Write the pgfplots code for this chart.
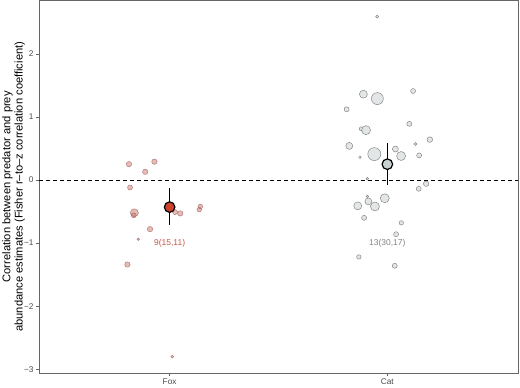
\documentclass[border=0pt]{standalone}
\usepackage{fontspec}
\setmainfont{Liberation Sans}
\usepackage{pgfplots}
\pgfplotsset{compat=1.18}
\usepackage{pgfplotstable}

\definecolor{foxfill}{RGB}{195,95,85}
\definecolor{foxborder}{RGB}{160,100,95}
\definecolor{foxmean}{RGB}{205,65,45}
\definecolor{foxlab}{RGB}{200,85,65}
\definecolor{catfill}{RGB}{222,226,226}
\definecolor{catborder}{RGB}{135,135,135}
\definecolor{catmean}{RGB}{200,208,208}
\definecolor{catlab}{RGB}{130,130,130}

\pgfplotstableread{
x y r
0.813 0.25 2.7
0.930 0.29 2.7
0.888 0.13 2.7
0.818 -0.12 2.5
0.838 -0.52 4.0
0.835 -0.56 2.5
0.910 -0.78 2.7
0.856 -0.94 1.3
0.806 -1.34 2.7
1.025 -0.51 2.5
1.049 -0.53 2.7
1.141 -0.42 2.3
1.136 -0.47 2.3
1.012 -2.80 1.5
}\foxdata

\pgfplotstableread{
x y r
1.953 2.59 1.5
1.890 1.36 4.0
1.954 1.29 6.0
2.118 1.41 2.5
1.813 1.12 2.5
2.101 0.89 2.5
1.880 0.81 2.0
1.902 0.79 4.5
2.195 0.64 2.8
1.825 0.54 3.5
2.129 0.57 1.5
1.874 0.36 1.3
1.940 0.41 6.5
2.037 0.49 3.0
2.063 0.38 4.5
2.146 0.39 2.5
1.908 0.02 1.3
2.178 -0.06 2.7
2.144 -0.14 2.5
1.908 -0.26 1.3
1.988 -0.29 4.5
1.913 -0.34 3.5
1.864 -0.41 4.0
1.943 -0.42 4.5
1.893 -0.60 2.5
2.064 -0.68 2.2
2.040 -0.86 2.5
1.869 -1.22 2.2
2.034 -1.36 2.5
}\catdata

\begin{document}
\begin{tikzpicture}
\useasboundingbox (0,0) rectangle (520bp,388bp);
\begin{axis}[
  at={(39bp,15bp)}, anchor=south west,
  scale only axis, width=479bp, height=372.5bp,
  xmin=0.4, xmax=2.6, ymin=-3.06, ymax=2.845,
  xtick={1,2}, xticklabels={Fox,Cat},
  ytick={-3,-2,-1,0,1,2}, yticklabels={−3,−2,−1,0,1,2},
  xtick pos=bottom, ytick pos=left,
  tick align=outside, major tick length=3bp,
  tick style={black!60, line width=0.5pt},
  axis line style={black!60, line width=0.6pt},
  ticklabel style={text=black!70, font=\fontsize{8.3}{9}\selectfont},
  xticklabel style={yshift=1bp},
  yticklabel style={xshift=1bp},
  ylabel={Correlation between predator and prey\\abundance estimates (Fisher r–to–z correlation coefficient)},
  ylabel style={at={(axis description cs:-0.053,0.5)}, anchor=center, rotate=0, align=center, font=\fontsize{11.2}{12.5}\selectfont},
  clip=false,
]
\addplot[black, dashed, dash pattern=on 4bp off 3bp, line width=0.8pt] coordinates {(0.4,0) (2.6,0)};

\addplot[scatter, only marks, mark=*,
  scatter/use mapped color={draw=foxborder, fill=foxfill, fill opacity=0.42, draw opacity=0.8},
  visualization depends on={\thisrow{r} \as \rr},
  scatter/@pre marker code/.append style={/tikz/mark size=\rr pt},
  line width=0.5pt] table[x=x, y=y] {\foxdata};

\addplot[scatter, only marks, mark=*,
  scatter/use mapped color={draw=catborder, fill=catfill, fill opacity=0.85},
  visualization depends on={\thisrow{r} \as \rr},
  scatter/@pre marker code/.append style={/tikz/mark size=\rr pt},
  line width=0.5pt] table[x=x, y=y] {\catdata};

\addplot[black, line width=1.1pt] coordinates {(1,-0.13) (1,-0.72)};
\addplot[black, line width=1.1pt] coordinates {(2,0.59) (2,-0.08)};

\addplot[only marks, mark=*, mark size=5.3pt, mark options={fill=foxmean, draw=black, line width=1.2pt}] coordinates {(1,-0.43)};
\addplot[only marks, mark=*, mark size=5.3pt, mark options={fill=catmean, draw=black, line width=1.2pt}] coordinates {(2,0.25)};

\node[text=foxlab, font=\fontsize{8.5}{9}\selectfont] at (axis cs:1,-1.0) {9(15,11)};
\node[text=catlab, font=\fontsize{8.5}{9}\selectfont] at (axis cs:2,-1.0) {13(30,17)};
\end{axis}
\end{tikzpicture}
\end{document}
